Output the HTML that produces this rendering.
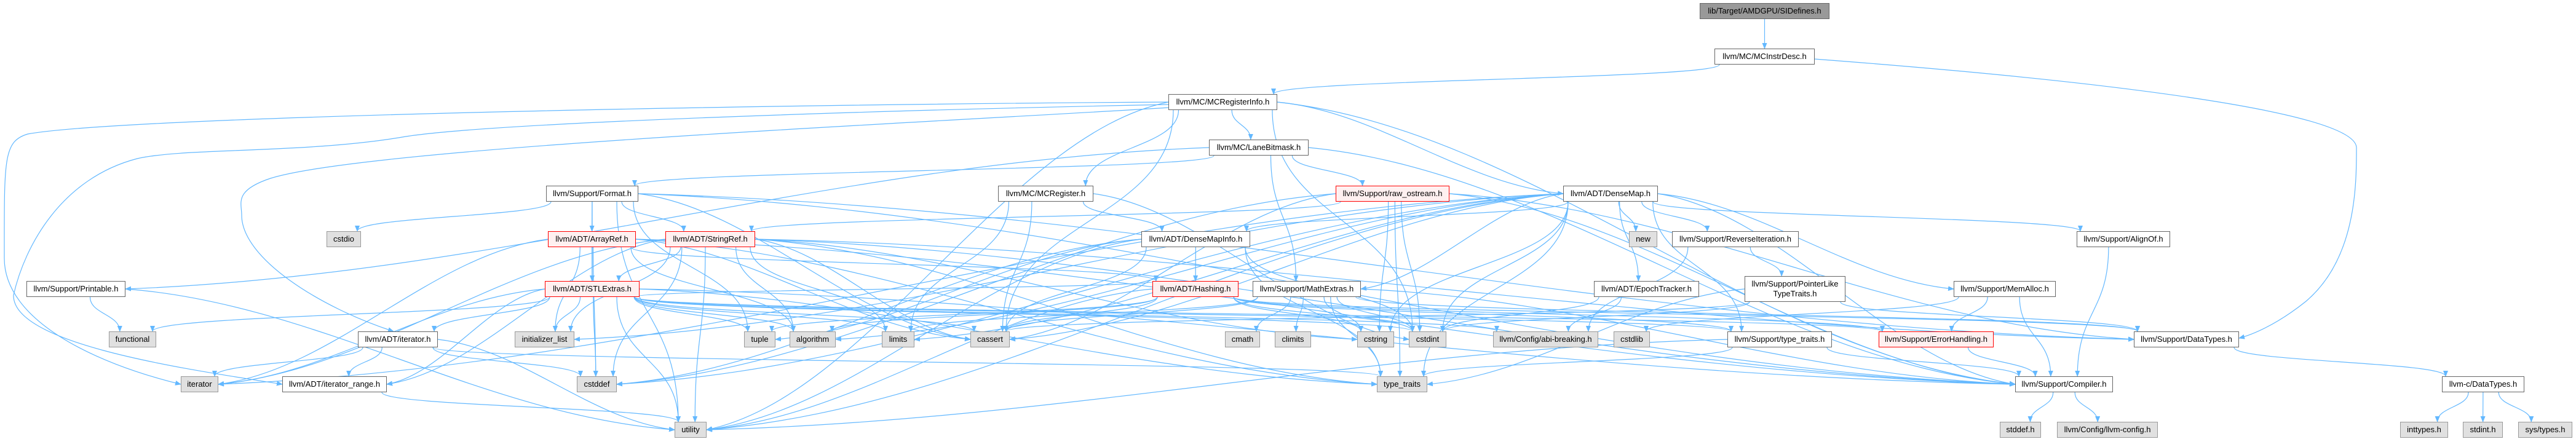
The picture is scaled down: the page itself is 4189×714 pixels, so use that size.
<!DOCTYPE html>
<html><head><meta charset="utf-8">
<style>
html,body{margin:0;padding:0;background:#fff;}
body{width:4189px;height:714px;overflow:hidden;position:relative;font-family:"Liberation Sans",Arial,sans-serif;}
svg{position:absolute;left:0;top:0;}
.n{position:absolute;box-sizing:border-box;border:1px solid #666;background:#fff;font-size:13px;color:#000;text-align:center;line-height:24px;white-space:nowrap;}
.r{border-color:#f00;background:#fff0f0;}
.g{border-color:#999;background:#e0e0e0;}
.top{border-color:#666;background:#999;}
.two{line-height:16px;padding-top:4px;}
</style></head><body>
<svg id="s" width="4189" height="714" xmlns="http://www.w3.org/2000/svg">
<defs><marker id="a" markerWidth="10" markerHeight="8" refX="9" refY="4" orient="auto" markerUnits="userSpaceOnUse"><path d="M0,0 L10,4 L0,8 z" fill="#63b8ff"/></marker></defs>
<g fill="none" stroke="#63b8ff" stroke-width="1.2">
<path marker-end="url(#a)" d="M1900,166 C1200,170 200,190 45,218 C5,230 7,260 7,420 C7,520 150,590 294,625"/>
<path marker-end="url(#a)" d="M1900,170 C1400,180 800,200 660,222 C500,250 300,240 223,258 C100,290 40,400 22,480 C20,560 300,600 459,625"/>
<path marker-end="url(#a)" d="M1900,175 C1500,200 600,240 440,290 C380,310 393,330 393,350 C393,420 520,500 640,539"/>
<path marker-end="url(#a)" d="M2951,96 C3400,130 3830,180 3832,240 C3832,300 3832,420 3750,490 C3700,530 3660,545 3641,550"/>
</g>
<g id="e" fill="none" stroke="#63b8ff" stroke-width="1.2"></g>
</svg>
<div id="nodes">
<div class="n top" style="left:2764px;top:5px;width:211px;height:26px">lib/Target/AMDGPU/SIDefines.h</div>
<div class="n" style="left:2788px;top:79px;width:163px;height:26px">llvm/MC/MCInstrDesc.h</div>
<div class="n" style="left:1900px;top:153px;width:177px;height:26px">llvm/MC/MCRegisterInfo.h</div>
<div class="n" style="left:1966px;top:227px;width:162px;height:26px">llvm/MC/LaneBitmask.h</div>
<div class="n" style="left:888px;top:302px;width:150px;height:26px">llvm/Support/Format.h</div>
<div class="n" style="left:1623px;top:302px;width:155px;height:26px">llvm/MC/MCRegister.h</div>
<div class="n r" style="left:2172px;top:302px;width:185px;height:26px">llvm/Support/raw_ostream.h</div>
<div class="n" style="left:2542px;top:302px;width:154px;height:26px">llvm/ADT/DenseMap.h</div>
<div class="n g" style="left:531px;top:376px;width:56px;height:26px">cstdio</div>
<div class="n r" style="left:891px;top:376px;width:143px;height:26px">llvm/ADT/ArrayRef.h</div>
<div class="n r" style="left:1082px;top:376px;width:146px;height:26px">llvm/ADT/StringRef.h</div>
<div class="n" style="left:1856px;top:376px;width:177px;height:26px">llvm/ADT/DenseMapInfo.h</div>
<div class="n g" style="left:2649px;top:376px;width:46px;height:26px">new</div>
<div class="n" style="left:2719px;top:376px;width:206px;height:26px">llvm/Support/ReverseIteration.h</div>
<div class="n" style="left:3377px;top:376px;width:152px;height:26px">llvm/Support/AlignOf.h</div>
<div class="n" style="left:43px;top:457px;width:161px;height:26px">llvm/Support/Printable.h</div>
<div class="n r" style="left:886px;top:457px;width:154px;height:26px">llvm/ADT/STLExtras.h</div>
<div class="n r" style="left:1874px;top:457px;width:140px;height:26px">llvm/ADT/Hashing.h</div>
<div class="n" style="left:2037px;top:457px;width:176px;height:26px">llvm/Support/MathExtras.h</div>
<div class="n" style="left:2592px;top:457px;width:171px;height:26px">llvm/ADT/EpochTracker.h</div>
<div class="n two" style="left:2837px;top:449px;width:164px;height:42px">llvm/Support/PointerLike<br>TypeTraits.h</div>
<div class="n" style="left:3177px;top:457px;width:166px;height:26px">llvm/Support/MemAlloc.h</div>
<div class="n g" style="left:177px;top:539px;width:77px;height:26px">functional</div>
<div class="n" style="left:582px;top:539px;width:130px;height:26px">llvm/ADT/iterator.h</div>
<div class="n g" style="left:837px;top:539px;width:97px;height:26px">initializer_list</div>
<div class="n g" style="left:1210px;top:539px;width:51px;height:26px">tuple</div>
<div class="n g" style="left:1284px;top:539px;width:75px;height:26px">algorithm</div>
<div class="n g" style="left:1434px;top:539px;width:53px;height:26px">limits</div>
<div class="n g" style="left:1578px;top:539px;width:64px;height:26px">cassert</div>
<div class="n g" style="left:1992px;top:539px;width:57px;height:26px">cmath</div>
<div class="n g" style="left:2073px;top:539px;width:59px;height:26px">climits</div>
<div class="n g" style="left:2207px;top:539px;width:60px;height:26px">cstring</div>
<div class="n g" style="left:2291px;top:539px;width:61px;height:26px">cstdint</div>
<div class="n g" style="left:2428px;top:539px;width:171px;height:26px">llvm/Config/abi-breaking.h</div>
<div class="n g" style="left:2624px;top:539px;width:59px;height:26px">cstdlib</div>
<div class="n" style="left:2809px;top:539px;width:170px;height:26px">llvm/Support/type_traits.h</div>
<div class="n r" style="left:3055px;top:539px;width:187px;height:26px">llvm/Support/ErrorHandling.h</div>
<div class="n" style="left:3470px;top:539px;width:171px;height:26px">llvm/Support/DataTypes.h</div>
<div class="n g" style="left:294px;top:612px;width:61px;height:26px">iterator</div>
<div class="n" style="left:459px;top:612px;width:170px;height:26px">llvm/ADT/iterator_range.h</div>
<div class="n g" style="left:938px;top:612px;width:65px;height:26px">cstddef</div>
<div class="n g" style="left:2239px;top:612px;width:82px;height:26px">type_traits</div>
<div class="n" style="left:3277px;top:612px;width:159px;height:26px">llvm/Support/Compiler.h</div>
<div class="n" style="left:3971px;top:612px;width:134px;height:26px">llvm-c/DataTypes.h</div>
<div class="n g" style="left:1097px;top:686px;width:52px;height:26px">utility</div>
<div class="n g" style="left:3252px;top:686px;width:67px;height:26px">stddef.h</div>
<div class="n g" style="left:3345px;top:686px;width:164px;height:26px">llvm/Config/llvm-config.h</div>
<div class="n g" style="left:3903px;top:686px;width:78px;height:26px">inttypes.h</div>
<div class="n g" style="left:4005px;top:686px;width:65px;height:26px">stdint.h</div>
<div class="n g" style="left:4095px;top:686px;width:88px;height:26px">sys/types.h</div>
</div>
<script>
var N={};
document.querySelectorAll('#nodes .n').forEach(function(d){
 var k=d.textContent.replace(/\s+/g,'');
 N[k]={x1:parseFloat(d.style.left),y1:parseFloat(d.style.top),w:parseFloat(d.style.width),h:parseFloat(d.style.height)};
});
function f(n){var k;for(k in N){if(k===n)return N[k];}for(k in N){if(k.indexOf(n)>=0)return N[k];}return null;}
var E=[
['SIDefines','MCInstrDesc.h'],['MCInstrDesc.h','MCRegisterInfo.h'],
['MCRegisterInfo.h','LaneBitmask.h'],['MCRegisterInfo.h','MCRegister.h'],['MCRegisterInfo.h','DenseMap.h'],['MCRegisterInfo.h','cassert'],['MCRegisterInfo.h','cstdint'],['MCRegisterInfo.h','utility'],['MCRegisterInfo.h','Compiler.h'],
['LaneBitmask.h','Format.h'],['LaneBitmask.h','MathExtras.h'],['LaneBitmask.h','raw_ostream.h'],['LaneBitmask.h','Compiler.h'],['LaneBitmask.h','Printable.h'],
['Format.h','cstdio'],['Format.h','ArrayRef.h'],['Format.h','StringRef.h'],['Format.h','STLExtras.h'],['Format.h','cassert'],['Format.h','utility'],['Format.h','tuple'],['Format.h','Support/DataTypes.h'],['Format.h','Compiler.h'],
['ArrayRef.h','STLExtras.h'],['ArrayRef.h','iterator'],['ArrayRef.h','initializer_list'],['ArrayRef.h','cstddef'],['ArrayRef.h','algorithm'],['ArrayRef.h','type_traits'],['ArrayRef.h','Hashing.h'],['ArrayRef.h','Compiler.h'],['ArrayRef.h','cassert'],
['StringRef.h','STLExtras.h'],['StringRef.h','iterator_range.h'],['StringRef.h','iterator'],['StringRef.h','cstddef'],['StringRef.h','cstring'],['StringRef.h','limits'],['StringRef.h','type_traits'],['StringRef.h','utility'],['StringRef.h','Compiler.h'],['StringRef.h','Support/DataTypes.h'],['StringRef.h','initializer_list'],['StringRef.h','algorithm'],['StringRef.h','cassert'],
['STLExtras.h','functional'],['STLExtras.h','ADT/iterator.h'],['STLExtras.h','iterator_range.h'],['STLExtras.h','initializer_list'],['STLExtras.h','tuple'],['STLExtras.h','algorithm'],['STLExtras.h','limits'],['STLExtras.h','cassert'],['STLExtras.h','cstddef'],['STLExtras.h','cstdint'],['STLExtras.h','utility'],['STLExtras.h','type_traits'],['STLExtras.h','iterator'],['STLExtras.h','abi-breaking'],['STLExtras.h','Support/type_traits.h'],['STLExtras.h','ErrorHandling.h'],['STLExtras.h','Compiler.h'],['STLExtras.h','Hashing.h'],
['ADT/iterator.h','iterator'],['ADT/iterator.h','iterator_range.h'],['ADT/iterator.h','cstddef'],['ADT/iterator.h','utility'],['ADT/iterator.h','type_traits'],
['iterator_range.h','utility'],['Printable.h','functional'],['Printable.h','utility'],
['MCRegister.h','DenseMapInfo.h'],['MCRegister.h','cassert'],['MCRegister.h','limits'],['MCRegister.h','cstdint'],
['raw_ostream.h','StringRef.h'],['raw_ostream.h','Support/DataTypes.h'],['raw_ostream.h','cassert'],['raw_ostream.h','cstddef'],['raw_ostream.h','cstdint'],['raw_ostream.h','cstring'],['raw_ostream.h','type_traits'],['raw_ostream.h','Compiler.h'],
['DenseMap.h','DenseMapInfo.h'],['DenseMap.h','EpochTracker.h'],['DenseMap.h','MathExtras.h'],['DenseMap.h','new'],['DenseMap.h','ReverseIteration.h'],['DenseMap.h','AlignOf.h'],['DenseMap.h','MemAlloc.h'],['DenseMap.h','Support/type_traits.h'],['DenseMap.h','Compiler.h'],['DenseMap.h','algorithm'],['DenseMap.h','cassert'],['DenseMap.h','cstddef'],['DenseMap.h','cstring'],['DenseMap.h','iterator'],['DenseMap.h','limits'],['DenseMap.h','type_traits'],['DenseMap.h','utility'],['DenseMap.h','initializer_list'],['DenseMap.h','cstdint'],
['DenseMapInfo.h','Hashing.h'],['DenseMapInfo.h','cassert'],['DenseMapInfo.h','cstddef'],['DenseMapInfo.h','cstdint'],['DenseMapInfo.h','tuple'],['DenseMapInfo.h','type_traits'],['DenseMapInfo.h','utility'],
['Hashing.h','cassert'],['Hashing.h','algorithm'],['Hashing.h','cstring'],['Hashing.h','tuple'],['Hashing.h','utility'],['Hashing.h','Support/type_traits.h'],['Hashing.h','ErrorHandling.h'],['Hashing.h','Support/DataTypes.h'],['Hashing.h','cstdint'],
['MathExtras.h','cmath'],['MathExtras.h','climits'],['MathExtras.h','cstring'],['MathExtras.h','cstdint'],['MathExtras.h','limits'],['MathExtras.h','type_traits'],['MathExtras.h','cassert'],['MathExtras.h','Compiler.h'],['MathExtras.h','Support/DataTypes.h'],
['EpochTracker.h','abi-breaking'],['EpochTracker.h','cstdint'],
['ReverseIteration.h','PointerLike'],['ReverseIteration.h','abi-breaking'],
['PointerLike','Support/DataTypes.h'],['PointerLike','cassert'],['PointerLike','type_traits'],['PointerLike','cstdint'],
['MemAlloc.h','Compiler.h'],['MemAlloc.h','ErrorHandling.h'],['MemAlloc.h','cstdlib'],
['AlignOf.h','Compiler.h'],
['Support/type_traits.h','Compiler.h'],['Support/type_traits.h','type_traits'],['Support/type_traits.h','utility'],
['ErrorHandling.h','Compiler.h'],['Support/DataTypes.h','llvm-c/DataTypes.h'],
['Compiler.h','stddef.h'],['Compiler.h','llvm-config.h'],
['llvm-c/DataTypes.h','inttypes.h'],['llvm-c/DataTypes.h','stdint.h'],['llvm-c/DataTypes.h','sys/types.h']
];
var g=document.getElementById('e'),h='';
E.forEach(function(e){
 var a=f(e[0]),b=f(e[1]);if(!a||!b)return;
 var acx=a.x1+a.w/2,bcx=b.x1+b.w/2;
 var sx=Math.max(a.x1+8,Math.min(a.x1+a.w-8,acx+(bcx-acx)*0.25));
 var sy=a.y1+a.h;
 var tx=Math.max(b.x1+6,Math.min(b.x1+b.w-6,bcx+(sx-bcx)*0.3));
 var ty=b.y1;
 var dy=ty-sy;
 if(Math.abs(bcx-acx)>400 && dy>60){
  if(bcx<acx){sx=a.x1;tx=b.x1+b.w;}else{sx=a.x1+a.w;tx=b.x1;}
  sy=a.y1+a.h/2;ty=b.y1+b.h/2;
  h+='<path marker-end="url(#a)" d="M'+sx+','+sy+' C'+(sx+(tx-sx)*0.35)+','+(sy+(ty-sy)*0.1)+' '+(tx-(tx-sx)*0.35)+','+(ty-(ty-sy)*0.1)+' '+tx+','+ty+'"/>';
 } else {
  h+='<path marker-end="url(#a)" d="M'+sx+','+sy+' C'+sx+','+(sy+dy*0.5)+' '+tx+','+(ty-dy*0.5)+' '+tx+','+ty+'"/>';
 }
});
g.innerHTML=h;
</script>
</body></html>
